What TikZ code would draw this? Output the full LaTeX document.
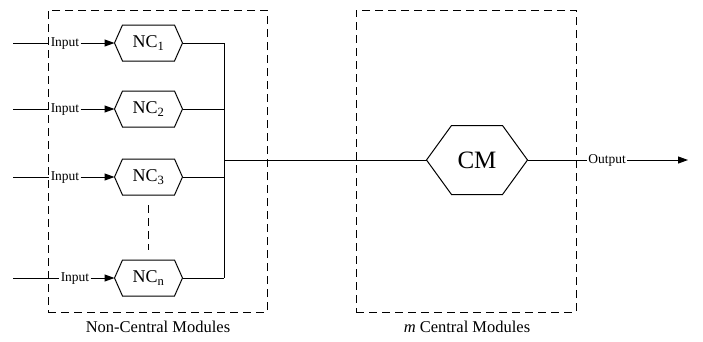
\documentclass[tikz,border=0pt]{standalone}
\usepackage{fontspec}
\setmainfont{Liberation Serif}
\usetikzlibrary{arrows.meta,calc}
\begin{document}
\begin{tikzpicture}[x=1pt,y=-1pt,line width=1pt,
  modbox/.style={draw,dashed,dash pattern=on 8pt off 5pt,line width=1pt},
  hexbox/.style={minimum width=67pt,minimum height=35pt,inner sep=0pt,font=\fontsize{18}{20}\selectfont},
  cmbox/.style={minimum width=100pt,minimum height=68pt,inner sep=0pt,font=\fontsize{25}{28}\selectfont},
  lbl/.style={inner sep=1pt,text height=1.7ex,text depth=0pt,font=\fontsize{13.5}{15}\selectfont},
  caption/.style={font=\fontsize{16.5}{18}\selectfont},
  tip/.style={-{Triangle[length=10pt,width=7pt]}}]
\useasboundingbox (0,0) rectangle (703,341);
% module boxes
\node[modbox,minimum width=219pt,minimum height=302pt,inner sep=0pt] (leftbox) at (157.5,161) {};
\node[modbox,minimum width=220pt,minimum height=302pt,inner sep=0pt] (rightbox) at (466,161) {};
% NC modules
\node[hexbox] (nc1) at (148.5,43) {NC\textsubscript{1}};
\node[hexbox] (nc2) at (148.5,109) {NC\textsubscript{2}};
\node[hexbox] (nc3) at (148.5,177) {NC\textsubscript{3}};
\node[hexbox] (ncn) at (148.5,278) {NC\textsubscript{n}};
\node[cmbox] (cm) at (477,160) {CM};
\foreach \n/\d in {nc1/8,nc2/8,nc3/8,ncn/8,cm/25}{
  \draw (\n.west) -- ([xshift=\d pt]\n.north west) -- ([xshift=-\d pt]\n.north east)
    -- (\n.east) -- ([xshift=-\d pt]\n.south east) -- ([xshift=\d pt]\n.south west) -- cycle;
}
% inputs
\coordinate (s1) at (13,43);
\coordinate (s2) at (13,109);
\coordinate (s3) at (13,177);
\coordinate (sn) at (13,278);
\node[lbl] (i1) at (65,43) {Input};
\node[lbl] (i2) at (65,109) {Input};
\node[lbl] (i3) at (65,177) {Input};
\node[lbl] (in) at (75,278) {Input};
\foreach \s/\i/\n in {s1/i1/nc1,s2/i2/nc2,s3/i3/nc3,sn/in/ncn}{
  \draw (\s) -- (\i.west);
  \draw[tip] (\i.east) -- (\n.west);
}
% bus
\coordinate (bus) at (224,160);
\foreach \n in {nc1,nc2,nc3,ncn}{
  \draw (\n.east) -- (\n.east -| bus);
}
\draw (nc1.east -| bus) -- (ncn.east -| bus);
\draw (bus) -- (cm.west);
% dots between NC3 and NCn
\coordinate (d1) at (148,205);
\coordinate (d2) at (148,250);
\draw[dashed,dash pattern=on 8pt off 5pt] (d1) -- (d2);
% output
\node[lbl] (out) at (607,160) {Output};
\coordinate (oe) at (688,160);
\draw (cm.east) -- (out.west);
\draw[tip] (out.east) -- (oe);
% captions
\node[caption] (c1) at (158,327) {Non-Central Modules};
\node[caption] (c2) at (467,327) {\textit{m} Central Modules};
\end{tikzpicture}
\end{document}
